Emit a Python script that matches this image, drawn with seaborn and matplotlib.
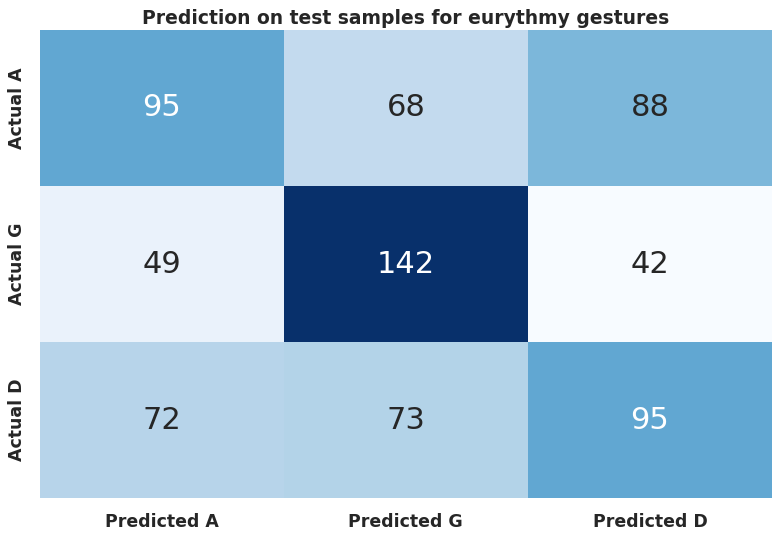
import matplotlib
matplotlib.use("Agg")
import matplotlib.pyplot as plt
import seaborn as sns
import pandas as pd

row_labels = ["Actual A", "Actual G", "Actual D"]
col_labels = ["Predicted A", "Predicted G", "Predicted D"]
counts = [
    [95, 68, 88],
    [49, 142, 42],
    [72, 73, 95],
]

sns.set_theme(style="white", font_scale=1.0)

df = pd.DataFrame(counts, index=row_labels, columns=col_labels)

fig, ax = plt.subplots(figsize=(7.79, 5.35), dpi=100)
sns.heatmap(df, annot=True, fmt="d", cmap="Blues", cbar=False,
            annot_kws={"size": 22}, ax=ax)
ax.set_title("Prediction on test samples for eurythmy gestures",
             fontsize=13.5, fontweight="bold", pad=4)
ax.set_xticklabels(ax.get_xticklabels(), fontsize=12.5, fontweight="bold")
ax.set_yticklabels(ax.get_yticklabels(), fontsize=12.5, fontweight="bold", va="center")
ax.tick_params(axis="x", pad=5)
ax.tick_params(axis="y", pad=4)
plt.subplots_adjust(left=0.051, right=0.991, top=0.944, bottom=0.069)
fig.savefig("out.png")
